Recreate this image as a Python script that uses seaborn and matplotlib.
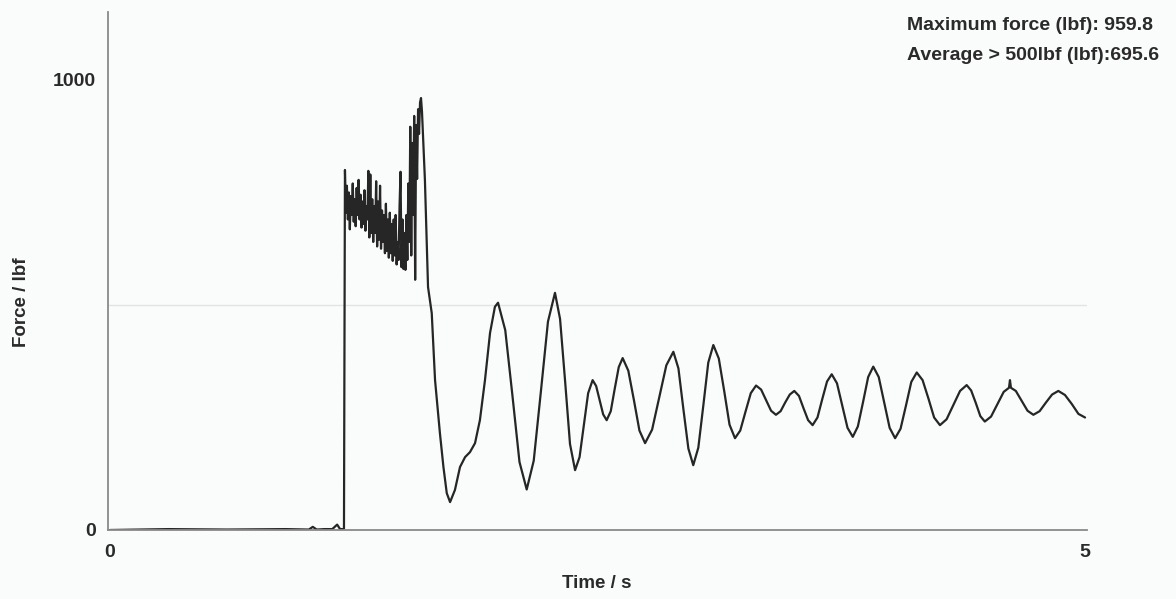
import matplotlib
matplotlib.use("Agg")
import matplotlib.pyplot as plt
import seaborn as sns
import pandas as pd

# Force trace (time in s, force in lbf)
base_t = [0.00, 0.30, 0.60, 0.90, 1.02, 1.04, 1.06, 1.10, 1.14, 1.165, 1.18, 1.195, 1.200]
base_f = [0, 2, 1, 2, 1, 7, 1, 2, 2, 12, 2, 2, 3]

impact_t = [1.205, 1.210, 1.215, 1.220, 1.225, 1.230, 1.235, 1.240, 1.245, 1.250,
            1.255, 1.260, 1.265, 1.270, 1.275, 1.280, 1.285, 1.290, 1.295, 1.300,
            1.305, 1.310, 1.315, 1.320, 1.325, 1.330, 1.335, 1.340, 1.345, 1.350,
            1.355, 1.360, 1.365, 1.370, 1.375, 1.380, 1.385, 1.390, 1.395, 1.400,
            1.405, 1.410, 1.415, 1.420, 1.425, 1.430, 1.435, 1.440, 1.445, 1.450,
            1.455, 1.460, 1.465, 1.470, 1.475, 1.480, 1.485, 1.490, 1.495, 1.500,
            1.505, 1.510, 1.515, 1.520, 1.525, 1.530, 1.535, 1.540, 1.545, 1.550,
            1.555, 1.560, 1.565, 1.570, 1.575, 1.580, 1.585, 1.590, 1.595]
impact_f = [800, 705, 765, 690, 750, 668, 742, 700, 770, 685,
            735, 675, 760, 700, 778, 690, 745, 672, 730, 680,
            755, 665, 720, 690, 798, 650, 790, 660, 735, 640,
            720, 660, 775, 630, 730, 645, 765, 625, 710, 640,
            700, 615, 725, 620, 690, 605, 705, 615, 680, 598,
            690, 610, 700, 590, 640, 600, 720, 796, 584, 690,
            580, 660, 578, 700, 600, 770, 640, 896, 610, 860,
            700, 920, 556, 900, 780, 935, 880, 950, 959.8]

ring_t = [1.600, 1.605, 1.615, 1.631, 1.650, 1.667, 1.692, 1.710, 1.727, 1.744,
          1.769, 1.795, 1.821, 1.846, 1.872, 1.897, 1.923, 1.949, 1.974, 1.990,
          2.027, 2.064, 2.100, 2.137,
          2.173, 2.210, 2.246, 2.282,
          2.308, 2.334, 2.359, 2.385,
          2.408, 2.430, 2.452, 2.475,
          2.493, 2.511, 2.529, 2.547,
          2.568, 2.588, 2.609, 2.629,
          2.658, 2.687, 2.715, 2.744,
          2.780, 2.817, 2.853, 2.889,
          2.915, 2.940, 2.966, 2.991,
          3.017, 3.043, 3.068, 3.094,
          3.122, 3.150, 3.177, 3.205,
          3.232, 3.259, 3.286, 3.313,
          3.339, 3.364, 3.390, 3.415,
          3.439, 3.462, 3.486, 3.509,
          3.533, 3.556, 3.580, 3.603,
          3.628, 3.652, 3.677, 3.701,
          3.728, 3.755, 3.782, 3.809,
          3.835, 3.862, 3.888, 3.914,
          3.942, 3.970, 3.998, 4.026,
          4.054, 4.082, 4.109, 4.137,
          4.167, 4.197, 4.226, 4.256,
          4.290, 4.325, 4.359, 4.393,
          4.416, 4.440, 4.463, 4.486,
          4.518, 4.551, 4.583, 4.610, 4.615, 4.620,
          4.645, 4.675, 4.705, 4.735,
          4.767, 4.799, 4.831, 4.863,
          4.897, 4.932, 4.966, 5.000]
ring_f = [930, 880, 778, 540, 482, 333, 215, 140, 82, 62,
          89, 140, 162, 173, 193, 244, 333, 438, 496, 505,
          444, 298, 151, 90,
          154, 309, 463, 527,
          469, 330, 191, 133,
          162, 233, 304, 333,
          320, 289, 257, 244,
          264, 313, 362, 382,
          354, 288, 221, 193,
          223, 295, 366, 396,
          359, 270, 181, 144,
          183, 278, 372, 411,
          381, 308, 234, 204,
          221, 263, 304, 321,
          312, 289, 265, 256,
          264, 283, 301, 309,
          298, 271, 244, 233,
          250, 290, 330, 346,
          326, 277, 227, 207,
          230, 285, 340, 363,
          340, 284, 227, 204,
          225, 277, 329, 350,
          333, 292, 250, 233,
          246, 278, 309, 322,
          310, 282, 253, 241,
          252, 280, 307, 316, 333, 316,
          309, 287, 265, 256,
          264, 283, 301, 309,
          300, 280, 258, 250]

x_ticks = [0, 1, 2, 3, 4, 5]
x_labels = ["0", "", "", "", "", "5"]
y_ticks = [0, 500, 1000]
y_labels = ["0", "", "1000"]
notes = ["Maximum force (lbf): 959.8", "Average > 500lbf (lbf):695.6"]

df = pd.DataFrame({"time": base_t + impact_t + ring_t,
                   "force": base_f + impact_f + ring_f})

sns.set_theme(style="white")
plt.rcParams["font.family"] = ["Liberation Sans", "DejaVu Sans"]
txt = dict(fontsize=13.5, color="#2a2a2a", fontweight="bold")

fig = plt.figure(figsize=(11.76, 5.99), dpi=100, facecolor="#fafbfb")
ax = fig.add_axes([108 / 1176, 1 - 530 / 599, (1087 - 108) / 1176, 518 / 599])
ax.set_facecolor("#fafbfb")

ax.axhline(500, color="#e2e4e4", lw=1, zorder=0)
sns.lineplot(data=df, x="time", y="force", sort=False, estimator=None,
             color="#262626", lw=1.6, ax=ax)
ax.lines[-1].set_solid_joinstyle("round")

ax.set_xlim(-0.01, 5.01)
ax.set_ylim(0, 1151)
ax.set_xticks(x_ticks)
ax.set_xticklabels(x_labels)
ax.set_yticks(y_ticks)
ax.set_yticklabels(y_labels)
ax.tick_params(axis="both", direction="out", length=3, width=1, color="#888888",
               labelsize=14, labelcolor="#2a2a2a", pad=6)
ax.tick_params(axis="x", pad=7)
for lab in ax.get_xticklabels() + ax.get_yticklabels():
    lab.set_fontweight("bold")

for side in ["top", "right"]:
    ax.spines[side].set_visible(False)
for side in ["left", "bottom"]:
    ax.spines[side].set_color("#8a8a8a")
    ax.spines[side].set_linewidth(1.3)

ax.set_xlabel("Time / s", **txt)
ax.set_ylabel("Force / lbf", **txt)
ax.xaxis.set_label_coords(0.4995, -0.087)
ax.yaxis.set_label_coords(-0.080, 0.44)

fig.text(907 / 1176, 1 - 25 / 599, notes[0], ha="left", va="center",
         **dict(txt, fontsize=14))
fig.text(907 / 1176, 1 - 56 / 599, notes[1], ha="left", va="center",
         **dict(txt, fontsize=14))

fig.savefig("out.png", dpi=100, facecolor=fig.get_facecolor())
